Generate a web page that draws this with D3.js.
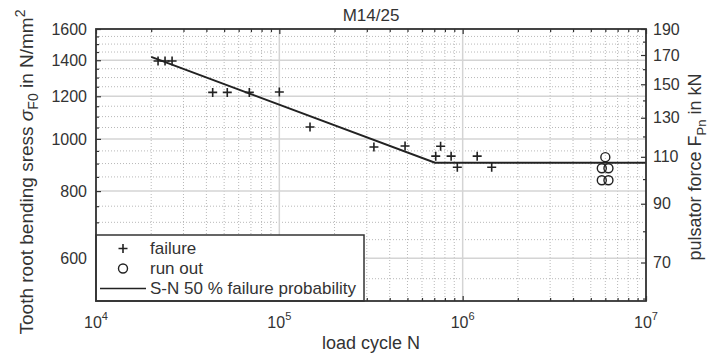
<!DOCTYPE html>
<html>
<head>
<meta charset="utf-8">
<script src="https://cdn.jsdelivr.net/npm/d3@7"></script>
<style>
  body { margin: 0; background: #fff; }
  text { font-family: Arial, "Liberation Sans", sans-serif; fill: #333; }
</style>
</head>
<body>
<svg id="chart"></svg>
<script>
// data
const failureN = [21800, 23800, 26000, 43300, 52000, 68600, 100000, 147000, 328000, 485000, 713000, 758000, 865000, 935000, 1200000, 1440000];
const failureS = [1395, 1395, 1395, 1220, 1220, 1220, 1222, 1052, 966, 970, 929, 969, 929, 886, 929, 886];
const runoutN = [6.0e6, 5.74e6, 6.24e6, 5.74e6, 6.24e6];
const runoutS = [925, 882, 882, 838, 838];
const snN = [2.0e4, 7.06e5, 1e7];
const snS = [1420, 903, 903];
const leftTicks = [600, 800, 1000, 1200, 1400, 1600];
const rightTicks = [70, 90, 110, 130, 150, 170, 190];
const xTicks = [1e4, 1e5, 1e6, 1e7];

const width = 722;
const height = 356;
const margin = { top: 29, right: 76, bottom: 55, left: 96 };
const x0 = margin.left, x1 = width - margin.right;
const y0 = margin.top, y1 = height - margin.bottom;

const svg = d3.select("#chart")
    .attr("width", width)
    .attr("height", height);

const x = d3.scaleLog().domain([1e4, 1e7]).range([x0, x1]);
const y = d3.scaleLog().domain([500, 1600]).range([y1, y0]);
// right axis: force = stress / (1600/190)
const yR = d3.scaleLog().domain([500 * 190 / 1600, 190]).range([y1, y0]);

// grid
const minorY = d3.range(550, 1600, 50).filter(v => v % 200 !== 0);
const minorX = [];
[1e4, 1e5, 1e6].forEach(d => { for (let k = 2; k <= 9; k++) minorX.push(k * d); });

const grid = svg.append("g");
grid.selectAll("line.my").data(minorY).enter().append("line")
    .attr("x1", x0).attr("x2", x1)
    .attr("y1", d => y(d)).attr("y2", d => y(d))
    .attr("stroke", "#b8b8b8").attr("stroke-width", 1).attr("stroke-dasharray", "1,2");
grid.selectAll("line.mx").data(minorX).enter().append("line")
    .attr("x1", d => x(d)).attr("x2", d => x(d))
    .attr("y1", y0).attr("y2", y1)
    .attr("stroke", "#b8b8b8").attr("stroke-width", 1).attr("stroke-dasharray", "1,2");
grid.selectAll("line.My").data(leftTicks).enter().append("line")
    .attr("x1", x0).attr("x2", x1)
    .attr("y1", d => y(d)).attr("y2", d => y(d))
    .attr("stroke", "#d4d4d4").attr("stroke-width", 1.5);
grid.selectAll("line.Mx").data(xTicks).enter().append("line")
    .attr("x1", d => x(d)).attr("x2", d => x(d))
    .attr("y1", y0).attr("y2", y1)
    .attr("stroke", "#d4d4d4").attr("stroke-width", 1.5);

// S-N line
svg.append("path")
    .datum(snN.map((n, i) => [n, snS[i]]))
    .attr("fill", "none")
    .attr("stroke", "#222")
    .attr("stroke-width", 2)
    .attr("d", d3.line().x(d => x(d[0])).y(d => y(d[1])));

// failures
svg.selectAll("path.fail")
    .data(failureN.map((n, i) => [n, failureS[i]]))
    .enter().append("path")
    .attr("transform", d => `translate(${x(d[0])},${y(d[1])})`)
    .attr("d", "M-4.5,0H4.5M0,-4.5V4.5")
    .attr("stroke", "#222").attr("stroke-width", 1.6);

// run outs
svg.selectAll("circle.run")
    .data(runoutN.map((n, i) => [n, runoutS[i]]))
    .enter().append("circle")
    .attr("cx", d => x(d[0])).attr("cy", d => y(d[1]))
    .attr("r", 4.5)
    .attr("fill", "none").attr("stroke", "#222").attr("stroke-width", 1.4);

// axes (inward ticks)
const axisColor = "#333";
function styleAxis(g) {
    g.select(".domain").remove();
    g.selectAll(".tick line").attr("stroke", axisColor).attr("stroke-width", 1.2);
    g.selectAll(".tick text").style("font-size", "16px").attr("fill", "#333");
}

svg.append("g").attr("transform", `translate(${x0},0)`)
    .call(d3.axisLeft(y).tickValues(leftTicks).tickSize(-5).tickPadding(9).tickFormat(d3.format("d")))
    .call(styleAxis);
svg.append("g").attr("transform", `translate(${x0},0)`)
    .call(d3.axisLeft(y).tickValues(minorY).tickSize(-3).tickFormat(""))
    .call(styleAxis);

const minorR = d3.range(60, 190, 10).filter(v => !rightTicks.includes(v));
svg.append("g").attr("transform", `translate(${x1},0)`)
    .call(d3.axisRight(yR).tickValues(rightTicks).tickSize(-5).tickPadding(7).tickFormat(d3.format("d")))
    .call(styleAxis);
svg.append("g").attr("transform", `translate(${x1},0)`)
    .call(d3.axisRight(yR).tickValues(minorR).tickSize(-3).tickFormat(""))
    .call(styleAxis);

[[y1, d3.axisBottom], [y0, d3.axisTop]].forEach(([yy, ax]) => {
    svg.append("g").attr("transform", `translate(0,${yy})`)
        .call(ax(x).tickValues(xTicks).tickSize(-5).tickFormat(""))
        .call(styleAxis);
    svg.append("g").attr("transform", `translate(0,${yy})`)
        .call(ax(x).tickValues(minorX).tickSize(-3).tickFormat(""))
        .call(styleAxis);
});

// x tick labels with superscripts
const xl = svg.selectAll("text.xt").data(xTicks).enter().append("text")
    .attr("x", d => x(d)).attr("y", 328)
    .attr("text-anchor", "middle")
    .style("font-size", "16px");
xl.append("tspan").text("10");
xl.append("tspan").attr("dy", -8).style("font-size", "11px").text(d => Math.round(Math.log10(d)));

// legend
const lg = svg.append("g");
lg.append("rect")
    .attr("x", x0).attr("y", 235)
    .attr("width", 268).attr("height", y1 - 235)
    .attr("fill", "#fff").attr("stroke", axisColor).attr("stroke-width", 1.5);
const legendItems = ["failure", "run out", "S-N 50 % failure probability"];
legendItems.forEach((t, i) => {
    const cy = 248.5 + i * 20;
    if (i === 0) lg.append("path").attr("transform", `translate(123,${cy})`)
        .attr("d", "M-4.5,0H4.5M0,-4.5V4.5").attr("stroke", "#222").attr("stroke-width", 1.6);
    if (i === 1) lg.append("circle").attr("cx", 123).attr("cy", cy).attr("r", 4.5)
        .attr("fill", "none").attr("stroke", "#222").attr("stroke-width", 1.4);
    if (i === 2) lg.append("line").attr("x1", 100).attr("x2", 146).attr("y1", cy).attr("y2", cy)
        .attr("stroke", "#222").attr("stroke-width", 1.6);
    lg.append("text").attr("x", 150).attr("y", cy).attr("dy", "0.35em")
        .style("font-size", "17px").text(t);
});

// frame
svg.append("rect")
    .attr("x", x0).attr("y", y0)
    .attr("width", x1 - x0).attr("height", y1 - y0)
    .attr("fill", "none").attr("stroke", axisColor).attr("stroke-width", 1.8);

// title and labels
svg.append("text")
    .attr("x", (x0 + x1) / 2).attr("y", 21)
    .attr("text-anchor", "middle")
    .style("font-size", "17px")
    .text("M14/25");

svg.append("text")
    .attr("x", (x0 + x1) / 2).attr("y", 349)
    .attr("text-anchor", "middle")
    .style("font-size", "18px")
    .text("load cycle N");

const ylab = svg.append("text")
    .attr("transform", "translate(33,172) rotate(-90)")
    .attr("text-anchor", "middle")
    .style("font-size", "19px");
ylab.append("tspan").text("Tooth root bending sress ");
ylab.append("tspan").style("font-style", "italic").text("σ");
ylab.append("tspan").attr("dy", 5).style("font-size", "14px").text("F0");
ylab.append("tspan").attr("dy", -5).text(" in N/mm");
ylab.append("tspan").attr("dy", -8).style("font-size", "14px").text("2");

const rlab = svg.append("text")
    .attr("transform", "translate(701,167) rotate(-90)")
    .attr("text-anchor", "middle")
    .style("font-size", "18px");
rlab.append("tspan").text("pulsator force F");
rlab.append("tspan").attr("dy", 5).style("font-size", "13px").text("Pn");
rlab.append("tspan").attr("dy", -5).text(" in kN");
</script>
</body>
</html>
